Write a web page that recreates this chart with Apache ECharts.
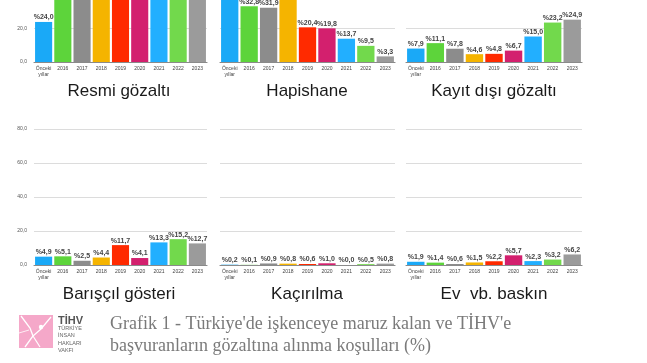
<!DOCTYPE html>
<html><head><meta charset="utf-8">
<script src="https://cdn.jsdelivr.net/npm/echarts@6/dist/echarts.min.js"></script>
<style>html,body{margin:0;padding:0;background:#fff;overflow:hidden;width:647px;height:363px}#c{width:647px;height:437px;position:absolute;left:0;top:-74px}</style>
</head><body><div id="c"></div>
<script>
const categories = ['Önceki\nyıllar','2016','2017','2018','2019','2020','2021','2022','2023'];
const barColors = ['#1aa9f7','#5dd43b','#8c8c8c','#f5b400','#ff2a00','#d3206e','#22afff','#72d94c','#9b9b9b'];
const yTicks = [0, 20, 40, 60, 80];
const resmiGozalti = [24.0, 48.5, 55.2, 52.6, 60.1, 63.4, 65.8, 58.3, 55.0];
const hapishane = [41.0, 32.8, 31.9, 37.8, 20.4, 19.8, 13.7, 9.5, 3.3];
const kayitDisi = [7.9, 11.1, 7.8, 4.6, 4.8, 6.7, 15.0, 23.2, 24.9];
const barisci = [4.9, 5.1, 2.5, 4.4, 11.7, 4.1, 13.3, 15.2, 12.7];
const kacirilma = [0.2, 0.1, 0.9, 0.8, 0.6, 1.0, 0.0, 0.5, 0.8];
const evBaskin = [1.9, 1.4, 0.6, 1.5, 2.2, 5.7, 2.3, 3.2, 6.2];
const panelTitles = ['Resmi gözaltı','Hapishane','Kayıt dışı gözaltı','Barışçıl gösteri','Kaçırılma','Ev  vb. baskın'];
const panelData = [resmiGozalti, hapishane, kayitDisi, barisci, kacirilma, evBaskin];

const OFF = 74; // canvas is shifted up by this many pixels (top row is cropped)
const colLefts = [34, 220, 406];
const colWidths = [173, 175, 176];
const titleX = [119, 307, 494];
const rowTops = [-74 + OFF, 129 + OFF];
const rowHeight = 136;
const titleY = [91 + OFF, 294 + OFF];

const grids = [], xAxes = [], yAxes = [], series = [], graphics = [];
const fmt = v => v.toFixed(1).replace('.', ',');
for (let i = 0; i < 6; i++) {
  const r = Math.floor(i / 3), c = i % 3;
  grids.push({left: colLefts[c], width: colWidths[c], top: rowTops[r], height: rowHeight});
  xAxes.push({type: 'category', gridIndex: i, data: categories,
    axisLine: {show: true, lineStyle: {color: '#8a8a8a', width: 1.2}},
    axisTick: {show: false},
    axisLabel: {fontSize: 5, color: '#444', margin: 4, lineHeight: 6, interval: 0, fontFamily: 'Liberation Sans'}});
  yAxes.push({type: 'value', gridIndex: i, min: yTicks[0], max: yTicks[yTicks.length - 1], interval: yTicks[1] - yTicks[0],
    axisLine: {show: false}, axisTick: {show: false},
    splitLine: {lineStyle: {color: '#dcdcdc', width: 1}},
    axisLabel: {show: c === 0, fontSize: 5, color: '#555', margin: 7, fontFamily: 'Liberation Sans',
      formatter: v => fmt(v)}});
  series.push({type: 'bar', xAxisIndex: i, yAxisIndex: i, barCategoryGap: '11%',
    data: panelData[i].map((v, k) => ({value: v, itemStyle: {color: barColors[k]}})),
    label: {show: true, position: 'top', distance: 1, fontSize: 7, color: '#444',
      fontFamily: 'Liberation Sans', fontWeight: 'bold', formatter: p => '%' + fmt(p.value)},
    animation: false});
  graphics.push({type: 'text', x: titleX[c], y: titleY[r],
    style: {text: panelTitles[i], font: '17px "Liberation Sans"', fill: '#1a1a1a',
      textAlign: 'center', textVerticalAlign: 'middle'}});
}

// logo
const L = OFF;
graphics.push({type: 'rect', shape: {x: 19, y: 315 + L, width: 34, height: 33}, style: {fill: '#f5a8c9'}});
graphics.push({type: 'polyline', shape: {points: [[21, 316 + L], [30, 328 + L], [33, 336 + L], [25, 347 + L]]}, style: {stroke: '#fff', lineWidth: 1.3, fill: null}});
graphics.push({type: 'polyline', shape: {points: [[33, 336 + L], [40, 347 + L]]}, style: {stroke: '#fff', lineWidth: 1.2, fill: null}});
graphics.push({type: 'polyline', shape: {points: [[33, 336 + L], [41, 329 + L], [51, 317 + L]]}, style: {stroke: '#fff', lineWidth: 1.2, fill: null}});
graphics.push({type: 'polyline', shape: {points: [[19, 333 + L], [29, 330 + L]]}, style: {stroke: '#fff', lineWidth: 0.8, fill: null}});
graphics.push({type: 'circle', shape: {cx: 41, cy: 327 + L, r: 2.2}, style: {fill: '#fff'}});
graphics.push({type: 'text', x: 58, y: 315 + L, style: {text: 'TİHV', font: 'bold 11px "Liberation Sans Narrow", "Liberation Sans"', fill: '#555'}});
graphics.push({type: 'text', x: 58, y: 325 + L, style: {text: 'TÜRKİYE\nİNSAN\nHAKLARI\nVAKFI', font: '5.5px "Liberation Sans Narrow", "Liberation Sans"', lineHeight: 7.3, fill: '#666'}});
// caption
graphics.push({type: 'text', x: 110, y: 313 + L, style: {
  text: "Grafik 1 - Türkiye'de işkenceye maruz kalan ve TİHV'e\nbaşvuranların gözaltına alınma koşulları (%)",
  font: '18px "Liberation Serif"', lineHeight: 22, fill: '#7a7a7a'}});

const chart = echarts.init(document.getElementById('c'), null, {renderer: 'canvas'});
chart.setOption({animation: false, grid: grids, xAxis: xAxes, yAxis: yAxes, series: series, graphic: graphics});
</script></body></html>
